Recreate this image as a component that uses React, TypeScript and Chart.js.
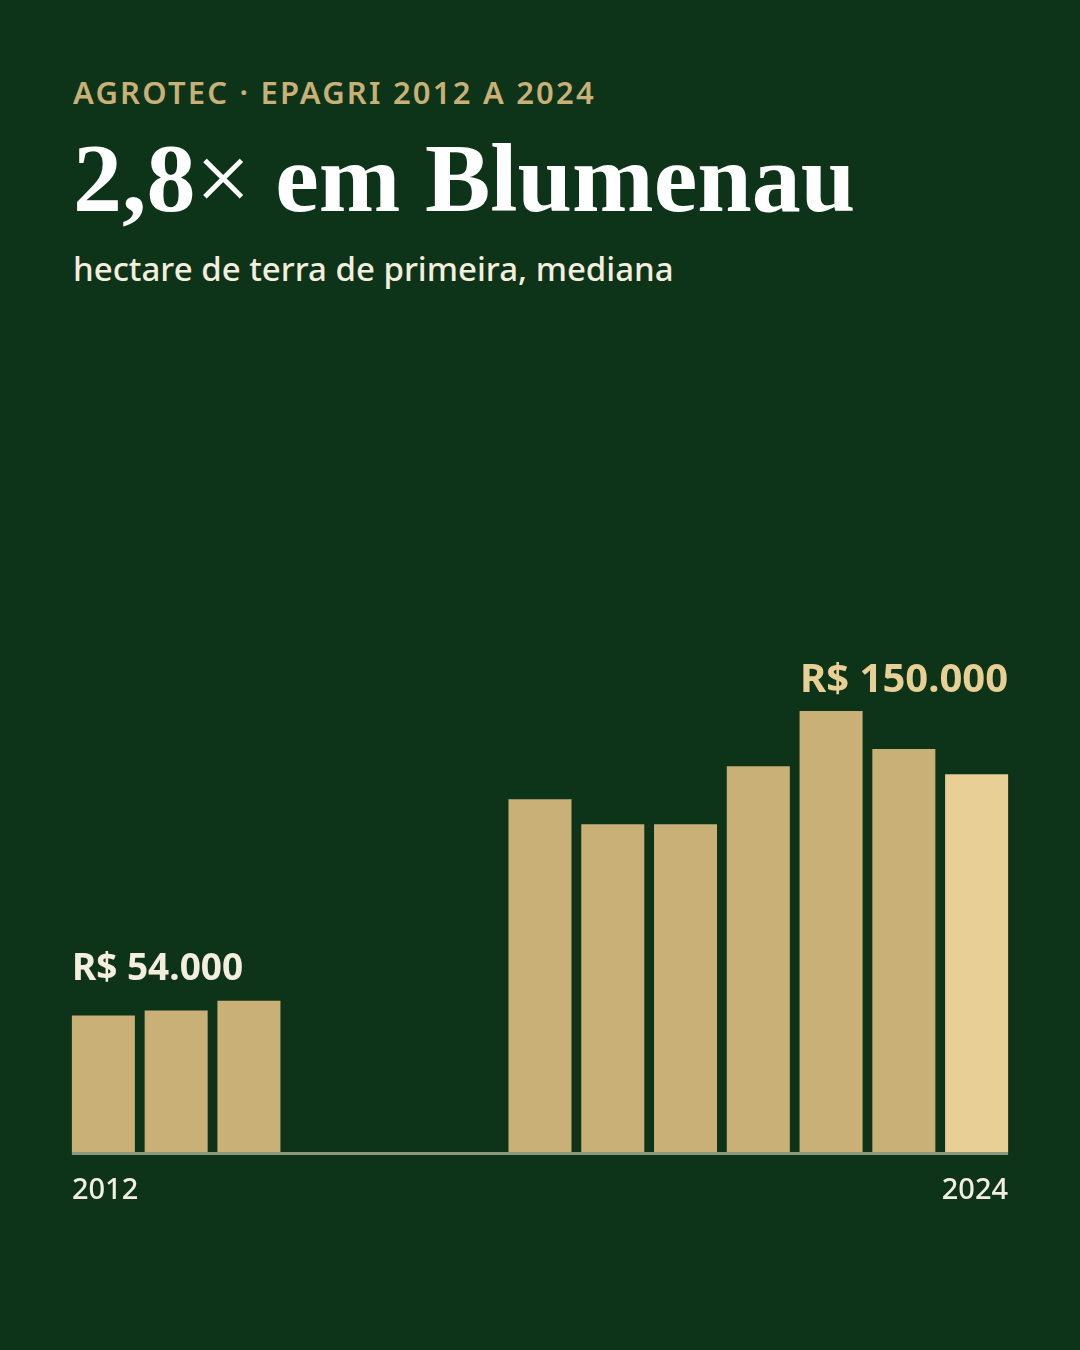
import { useEffect, useRef } from "react";
import Chart from "chart.js/auto";

// dados (mediana do hectare, R$)
const years = ["2012", "2013", "2014", "2015", "2016", "2017", "2018", "2019", "2020", "2021", "2022", "2023", "2024"];
const values = [54000, 55600, 58700, null, null, null, 122200, 114300, 114300, 132600, 150000, 138000, 130100];
const firstLabel = "R$ 54.000";
const peakLabel = "R$ 150.000";

const BG = "#0d3319";
const GOLD = "#c9b077";
const LIGHT = "#e8cf95";
const CREAM = "#f3eedd";
const AXIS = "#8a9a80";
const SANS = "'Noto Sans'";

const App = () => {
  const canvasRef = useRef<HTMLCanvasElement | null>(null);

  useEffect(() => {
    document.body.style.margin = "0";
    let chart: Chart | null = null;
    if (canvasRef.current) {
      const ctx = canvasRef.current.getContext("2d");
      if (ctx) {
        const labelsPlugin = {
          id: "labelsPlugin",
          afterDatasetsDraw(c: any) {
            const g = c.ctx;
            const area = c.chartArea;
            const meta = c.getDatasetMeta(0);
            const first = meta.data[0];
            const last = meta.data[meta.data.length - 1];
            const left = first.x - first.width / 2;
            const right = last.x + last.width / 2;
            g.save();
            // linha de base
            g.fillStyle = AXIS;
            g.fillRect(left, area.bottom, right - left, 3);
            // valor inicial
            g.font = `bold 37px ${SANS}`;
            g.fillStyle = CREAM;
            g.textAlign = "left";
            g.textBaseline = "alphabetic";
            g.fillText(firstLabel, left, first.y - 36);
            // pico
            const peakIdx = values.indexOf(Math.max(...(values.filter(v => v !== null) as number[])));
            const bp = meta.data[peakIdx];
            g.font = `bold 40px ${SANS}`;
            g.fillStyle = LIGHT;
            g.textAlign = "right";
            g.fillText(peakLabel, right, bp.y - 19);
            // anos
            g.font = `500 29px ${SANS}`;
            g.fillStyle = CREAM;
            g.textAlign = "left";
            g.fillText(years[0], left, area.bottom + 47);
            g.textAlign = "right";
            g.fillText(years[years.length - 1], right, area.bottom + 47);
            g.restore();
          },
        };

        chart = new Chart(ctx, {
          type: "bar",
          data: {
            labels: years,
            datasets: [
              {
                data: values,
                backgroundColor: values.map((_, i) => (i === values.length - 1 ? LIGHT : GOLD)),
                borderWidth: 0,
                categoryPercentage: 1,
                barPercentage: 0.866,
              },
            ],
          },
          options: {
            animation: false,
            responsive: false,
            layout: {
              padding: { left: 67, right: 67, top: 600, bottom: 190 },
            },
            plugins: {
              legend: { display: false },
              tooltip: { enabled: false },
            },
            scales: {
              x: {
                grid: { display: false },
                ticks: { display: false },
                border: { display: false },
              },
              y: {
                display: false,
                min: 11000,
                max: 185000,
              },
            },
          },
          plugins: [labelsPlugin],
        });
      }
    }
    return () => {
      chart?.destroy();
    };
  }, []);

  return (
    <div style={{ position: "relative", width: 1080, height: 1350, background: BG, overflow: "hidden" }}>
      <div
        style={{
          position: "absolute",
          left: 73,
          top: 71,
          fontFamily: SANS,
          fontWeight: 600,
          fontSize: 31,
          letterSpacing: 2.2,
          color: GOLD,
          whiteSpace: "nowrap",
        }}
      >
        AGROTEC · EPAGRI 2012 A 2024
      </div>
      <div
        style={{
          position: "absolute",
          left: 73,
          top: 118,
          fontFamily: "Liberation Serif",
          fontWeight: 700,
          fontSize: 98,
          lineHeight: "120px",
          color: "#ffffff",
          whiteSpace: "nowrap",
        }}
      >
        2,8<span style={{ fontWeight: 400 }}>×</span> em Blumenau
      </div>
      <div
        style={{
          position: "absolute",
          left: 73,
          top: 246,
          fontFamily: SANS,
          fontWeight: 500,
          fontSize: 33,
          color: CREAM,
          whiteSpace: "nowrap",
        }}
      >
        hectare de terra de primeira, mediana
      </div>
      <canvas ref={canvasRef} width={1080} height={1350} style={{ position: "absolute", left: 0, top: 0 }} />
    </div>
  );
};

export default App;
